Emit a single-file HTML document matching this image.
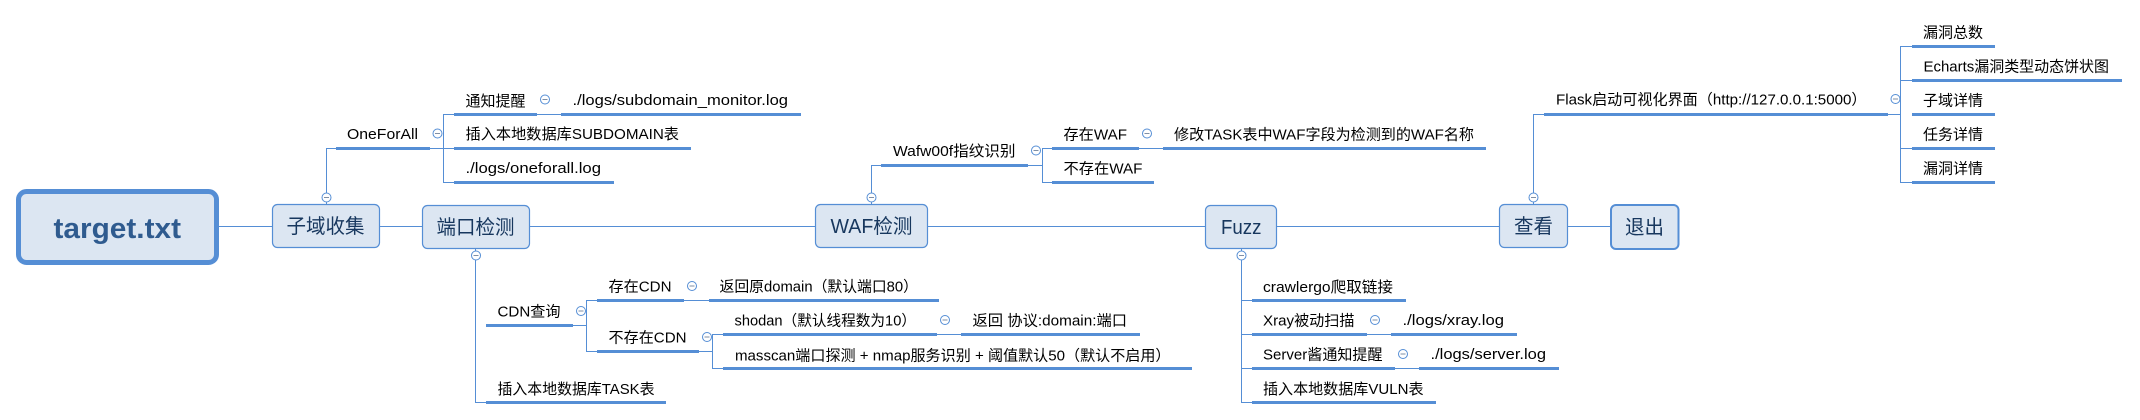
<!DOCTYPE html>
<html lang="zh"><head><meta charset="utf-8"><title>target.txt</title>
<style>
html,body{margin:0;padding:0;background:#fff;width:2140px;height:420px;overflow:hidden}
svg{display:block}
text{font-family:"Liberation Sans","Noto Sans CJK SC",sans-serif;font-size:15px;fill:#000}
.n{font-size:20px;fill:#17375e}
.t{stroke:#558ed5;stroke-width:1;fill:none}
.u{stroke:#558ed5;stroke-width:3;fill:none}
.b{fill:#dce6f2;stroke:#558ed5;stroke-width:1.2}
.c{fill:#fff;stroke:#558ed5;stroke-width:1}
.m{stroke:#7f8fa6;stroke-width:1}
</style></head><body>
<svg width="2140" height="420" viewBox="0 0 2140 420" xmlns="http://www.w3.org/2000/svg">
<path class="t" d="M218 226.5H1610"/>
<path class="t" d="M326.5 204V148.5H430H454M454 114.5H443.500V182.500H454M536 114.500H561"/>
<path class="u" d="M336 148.500H430M454 114.500H537M561 114.500H801M454 148.500H691M454 182.500H614"/>
<path class="t" d="M475.500 249V402.500H486M573 325.500H586.500M597 300.500H586.500V351.500H597M684 300.500H709M699 351.500H712.500M723 334.500H712.500V368.500H723M937 334.500H961"/>
<path class="u" d="M486 325.500H573M597 300.500H684M709 300.500H939M597 351.500H699M723 334.500H937M961 334.500H1140M723 368.500H1192M486 402.500H666"/>
<path class="t" d="M871.500 204V165.500H881M1028 165.500H1042.500M1052 148.500H1042.500V182.500H1052M1139 148.500H1163"/>
<path class="u" d="M881 165.500H1028M1052 148.500H1139M1163 148.500H1486M1052 182.500H1154"/>
<path class="t" d="M1241.500 249V402.500H1252M1241.500 300.500H1252M1241.500 334.500H1252M1241.500 368.500H1252M1367 334.500H1391M1395 368.500H1419"/>
<path class="u" d="M1252 300.500H1406M1252 334.500H1367M1391 334.500H1517M1252 368.500H1395M1419 368.500H1559M1252 402.500H1436"/>
<path class="t" d="M1533.500 204V114.500H1544M1888 114.500H1900.500M1912 46.500H1900.500V182.500H1912M1900.500 80.500H1912M1900.500 148.500H1912"/>
<path class="u" d="M1544 114.500H1888M1912 46.500H1995M1912 80.500H2122M1912 114.500H1995M1912 148.500H1995M1912 182.500H1995"/>

<rect x="18.500" y="191.500" width="198" height="71" rx="8" fill="#dce6f2" stroke="#558ed5" stroke-width="5"/>
<rect class="b" x="272.500" y="204.500" width="107" height="43" rx="5"/>
<rect class="b" x="422.500" y="205.500" width="107" height="43" rx="5"/>
<rect class="b" x="815.500" y="204.500" width="112" height="43" rx="5"/>
<rect class="b" x="1205.500" y="205.500" width="71" height="43" rx="5"/>
<rect class="b" x="1499.500" y="204.500" width="68" height="43" rx="5"/>
<rect x="1611" y="205" width="67.500" height="44" rx="5" fill="#dce6f2" stroke="#558ed5" stroke-width="2"/>

<g>
<circle class="c" cx="326.500" cy="197.500" r="4.500"/><path class="m" d="M324 197.500h5"/>
<circle class="c" cx="437.500" cy="133.500" r="4.500"/><path class="m" d="M435 133.500h5"/>
<circle class="c" cx="545" cy="99.500" r="4.500"/><path class="m" d="M542.500 99.500h5"/>
<circle class="c" cx="476" cy="255.500" r="4.500"/><path class="m" d="M473.500 255.500h5"/>
<circle class="c" cx="581" cy="311" r="4.500"/><path class="m" d="M578.500 311h5"/>
<circle class="c" cx="692" cy="286" r="4.500"/><path class="m" d="M689.500 286h5"/>
<circle class="c" cx="707" cy="337" r="4.500"/><path class="m" d="M704.500 337h5"/>
<circle class="c" cx="945" cy="320" r="4.500"/><path class="m" d="M942.500 320h5"/>
<circle class="c" cx="871.500" cy="197.500" r="4.500"/><path class="m" d="M869 197.500h5"/>
<circle class="c" cx="1036" cy="150.500" r="4.500"/><path class="m" d="M1033.500 150.500h5"/>
<circle class="c" cx="1147" cy="133.500" r="4.500"/><path class="m" d="M1144.500 133.500h5"/>
<circle class="c" cx="1241.500" cy="255.500" r="4.500"/><path class="m" d="M1239 255.500h5"/>
<circle class="c" cx="1375" cy="320" r="4.500"/><path class="m" d="M1372.500 320h5"/>
<circle class="c" cx="1403" cy="354" r="4.500"/><path class="m" d="M1400.500 354h5"/>
<circle class="c" cx="1533.500" cy="197.500" r="4.500"/><path class="m" d="M1531 197.500h5"/>
<circle class="c" cx="1895.500" cy="99" r="4.500"/><path class="m" d="M1893 99h5"/>
</g>

<text x="53.500" y="238" textLength="127.500" lengthAdjust="spacingAndGlyphs" style="font-size:29px;font-weight:bold;fill:#2f5b8f">target.txt</text>
<text class="n" x="286.500" y="233" textLength="78" lengthAdjust="spacingAndGlyphs">子域收集</text>
<text class="n" x="436.500" y="234" textLength="78" lengthAdjust="spacingAndGlyphs">端口检测</text>
<text class="n" x="830.500" y="233" textLength="82" lengthAdjust="spacingAndGlyphs">WAF检测</text>
<text class="n" x="1221" y="234" textLength="40.500" lengthAdjust="spacingAndGlyphs">Fuzz</text>
<text class="n" x="1514" y="233" textLength="39" lengthAdjust="spacingAndGlyphs">查看</text>
<text class="n" x="1625" y="234" textLength="39" lengthAdjust="spacingAndGlyphs">退出</text>

<text x="347" y="139" textLength="71" lengthAdjust="spacingAndGlyphs">OneForAll</text>
<text x="465.500" y="106" textLength="60" lengthAdjust="spacingAndGlyphs">通知提醒</text>
<text x="572.500" y="105" textLength="215.500" lengthAdjust="spacingAndGlyphs">./logs/subdomain_monitor.log</text>
<text x="465.500" y="139" textLength="213.500" lengthAdjust="spacingAndGlyphs">插入本地数据库SUBDOMAIN表</text>
<text x="465.500" y="173" textLength="135.500" lengthAdjust="spacingAndGlyphs">./logs/oneforall.log</text>

<text x="497.500" y="316.500" textLength="63" lengthAdjust="spacingAndGlyphs">CDN查询</text>
<text x="608.500" y="291.500" textLength="63" lengthAdjust="spacingAndGlyphs">存在CDN</text>
<text x="719.500" y="291.500" textLength="198.500" lengthAdjust="spacingAndGlyphs">返回原domain（默认端口80）</text>
<text x="608.500" y="342.500" textLength="78" lengthAdjust="spacingAndGlyphs">不存在CDN</text>
<text x="734.500" y="325.500" textLength="181.500" lengthAdjust="spacingAndGlyphs">shodan（默认线程数为10）</text>
<text x="972.500" y="325.500" textLength="154.500" lengthAdjust="spacingAndGlyphs">返回 协议:domain:端口</text>
<text x="735" y="360.500" textLength="435.500" lengthAdjust="spacingAndGlyphs">masscan端口探测 + nmap服务识别 + 阈值默认50（默认不启用）</text>
<text x="497.500" y="394" textLength="157" lengthAdjust="spacingAndGlyphs">插入本地数据库TASK表</text>

<text x="893" y="156" textLength="122.500" lengthAdjust="spacingAndGlyphs">Wafw00f指纹识别</text>
<text x="1063.500" y="139.500" textLength="63.500" lengthAdjust="spacingAndGlyphs">存在WAF</text>
<text x="1174" y="139.500" textLength="300" lengthAdjust="spacingAndGlyphs">修改TASK表中WAF字段为检测到的WAF名称</text>
<text x="1063.500" y="173.500" textLength="79" lengthAdjust="spacingAndGlyphs">不存在WAF</text>

<text x="1263" y="292" textLength="130" lengthAdjust="spacingAndGlyphs">crawlergo爬取链接</text>
<text x="1263" y="325.500" textLength="91.500" lengthAdjust="spacingAndGlyphs">Xray被动扫描</text>
<text x="1402.500" y="325" textLength="101.500" lengthAdjust="spacingAndGlyphs">./logs/xray.log</text>
<text x="1263" y="359.500" textLength="119.500" lengthAdjust="spacingAndGlyphs">Server酱通知提醒</text>
<text x="1430.500" y="359" textLength="115.500" lengthAdjust="spacingAndGlyphs">./logs/server.log</text>
<text x="1263" y="394" textLength="160.500" lengthAdjust="spacingAndGlyphs">插入本地数据库VULN表</text>

<text x="1556" y="104.500" textLength="310.500" lengthAdjust="spacingAndGlyphs">Flask启动可视化界面（http://127.0.0.1:5000）</text>
<text x="1923" y="37.500" textLength="60" lengthAdjust="spacingAndGlyphs">漏洞总数</text>
<text x="1923.500" y="71.500" textLength="185.500" lengthAdjust="spacingAndGlyphs">Echarts漏洞类型动态饼状图</text>
<text x="1923" y="105.500" textLength="60" lengthAdjust="spacingAndGlyphs">子域详情</text>
<text x="1923" y="139.500" textLength="60" lengthAdjust="spacingAndGlyphs">任务详情</text>
<text x="1923" y="173.500" textLength="60" lengthAdjust="spacingAndGlyphs">漏洞详情</text>
</svg>
</body></html>
